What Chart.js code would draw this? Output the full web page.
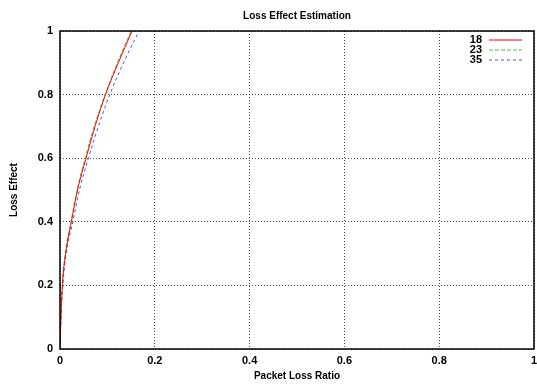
<!DOCTYPE html>
<html lang="en">
<head>
  <meta charset="UTF-8" />
  <title>Loss Effect Estimation</title>
  <script src="https://cdn.jsdelivr.net/npm/chart.js@4.4.0"></script>
  <style>
    body { margin: 0; background: white; }
    canvas { display: block; }
  </style>
</head>
<body>
  <canvas id="lossChart" width="537" height="385"></canvas>

  <script>
    const chartTitle = 'Loss Effect Estimation';
    const seriesNames = ['18', '23', '35'];
    const effectLevels = [0, 0.1, 0.2, 0.3, 0.4, 0.5, 0.6, 0.7, 0.8, 0.9, 1.0];
    const lossRatio18 = [0, 0.002, 0.005, 0.012, 0.024, 0.037, 0.055, 0.074, 0.096, 0.123, 0.152];
    const lossRatio23 = [0, 0.002, 0.005, 0.011, 0.023, 0.036, 0.053, 0.072, 0.095, 0.121, 0.150];
    const lossRatio35 = [0, 0.002, 0.006, 0.013, 0.027, 0.041, 0.060, 0.081, 0.105, 0.134, 0.167];
    const tickValues = [0, 0.2, 0.4, 0.6, 0.8, 1];

    const toPoints = xs => xs.map((x, i) => ({ x: x, y: effectLevels[i] }));

    const FONT = "'Liberation Sans', Arial, sans-serif";
    const boldFont = size => ({ family: FONT, size: size, weight: 'bold' });

    // gnuplot-like frame, centred title and key (label left, line sample right)
    const frameAndKey = {
      id: 'frameAndKey',
      afterDraw(chart) {
        const { ctx, chartArea } = chart;
        ctx.save();
        ctx.strokeStyle = '#000';
        ctx.lineWidth = 1.5;
        ctx.setLineDash([]);
        ctx.strokeRect(chartArea.left, chartArea.top, chartArea.right - chartArea.left, chartArea.bottom - chartArea.top);

        ctx.fillStyle = '#000';
        ctx.font = 'bold 10px ' + FONT;
        ctx.textAlign = 'center';
        ctx.textBaseline = 'middle';
        ctx.fillText(chartTitle, (chartArea.left + chartArea.right) / 2, 16);

        ctx.font = 'bold 11px ' + FONT;
        ctx.textAlign = 'right';
        chart.data.datasets.forEach((ds, i) => {
          const y = chartArea.top + 9 + i * 10;
          ctx.fillStyle = '#000';
          ctx.fillText(ds.label, chartArea.right - 52, y);
          ctx.strokeStyle = ds.borderColor;
          ctx.lineWidth = 1;
          ctx.setLineDash(ds.borderDash || []);
          ctx.beginPath();
          ctx.moveTo(chartArea.right - 45, y);
          ctx.lineTo(chartArea.right - 12, y);
          ctx.stroke();
        });
        ctx.restore();
      }
    };

    const gridStyle = {
      color: '#222',
      lineWidth: 0.8,
      drawTicks: false
    };
    const gridBorder = { display: false, dash: [1, 2] };

    const lineSet = (label, xs, color, dash) => ({
      label: label,
      data: toPoints(xs),
      borderColor: color,
      borderWidth: 1,
      borderDash: dash,
      showLine: true,
      pointRadius: 0,
      cubicInterpolationMode: 'monotone'
    });

    new Chart(document.getElementById('lossChart'), {
      type: 'scatter',
      data: {
        datasets: [
          lineSet(seriesNames[0], lossRatio18, '#ff0000', []),
          lineSet(seriesNames[1], lossRatio23, '#4cc03c', [4, 2]),
          lineSet(seriesNames[2], lossRatio35, '#3c5ad2', [3, 3])
        ]
      },
      options: {
        responsive: false,
        animation: false,
        layout: { padding: { left: 0, right: 3, top: 31, bottom: 0 } },
        plugins: {
          legend: { display: false },
          tooltip: { enabled: false },
          title: { display: false }
        },
        scales: {
          x: {
            type: 'linear',
            min: 0, max: 1,
            afterBuildTicks: scale => { scale.ticks = tickValues.map(v => ({ value: v })); },
            afterFit: scale => { scale.height = 36; scale.paddingLeft = 0; scale.paddingRight = 0; },
            ticks: { color: '#000', font: boldFont(11), padding: 5, maxRotation: 0, callback: v => String(v) },
            grid: gridStyle,
            border: gridBorder,
            title: { display: true, text: 'Packet Loss Ratio', color: '#000', font: boldFont(10), padding: { top: 4, bottom: 3 } }
          },
          y: {
            type: 'linear',
            min: 0, max: 1,
            afterBuildTicks: scale => { scale.ticks = tickValues.map(v => ({ value: v })); },
            afterFit: scale => { scale.width = 60; scale.paddingTop = 0; scale.paddingBottom = 0; },
            ticks: { color: '#000', font: boldFont(11), padding: 7, callback: v => String(v) },
            grid: gridStyle,
            border: gridBorder,
            title: { display: true, text: 'Loss Effect', color: '#000', font: boldFont(10), padding: { top: 8, bottom: 4 } }
          }
        }
      },
      plugins: [frameAndKey]
    });
  </script>
</body>
</html>
